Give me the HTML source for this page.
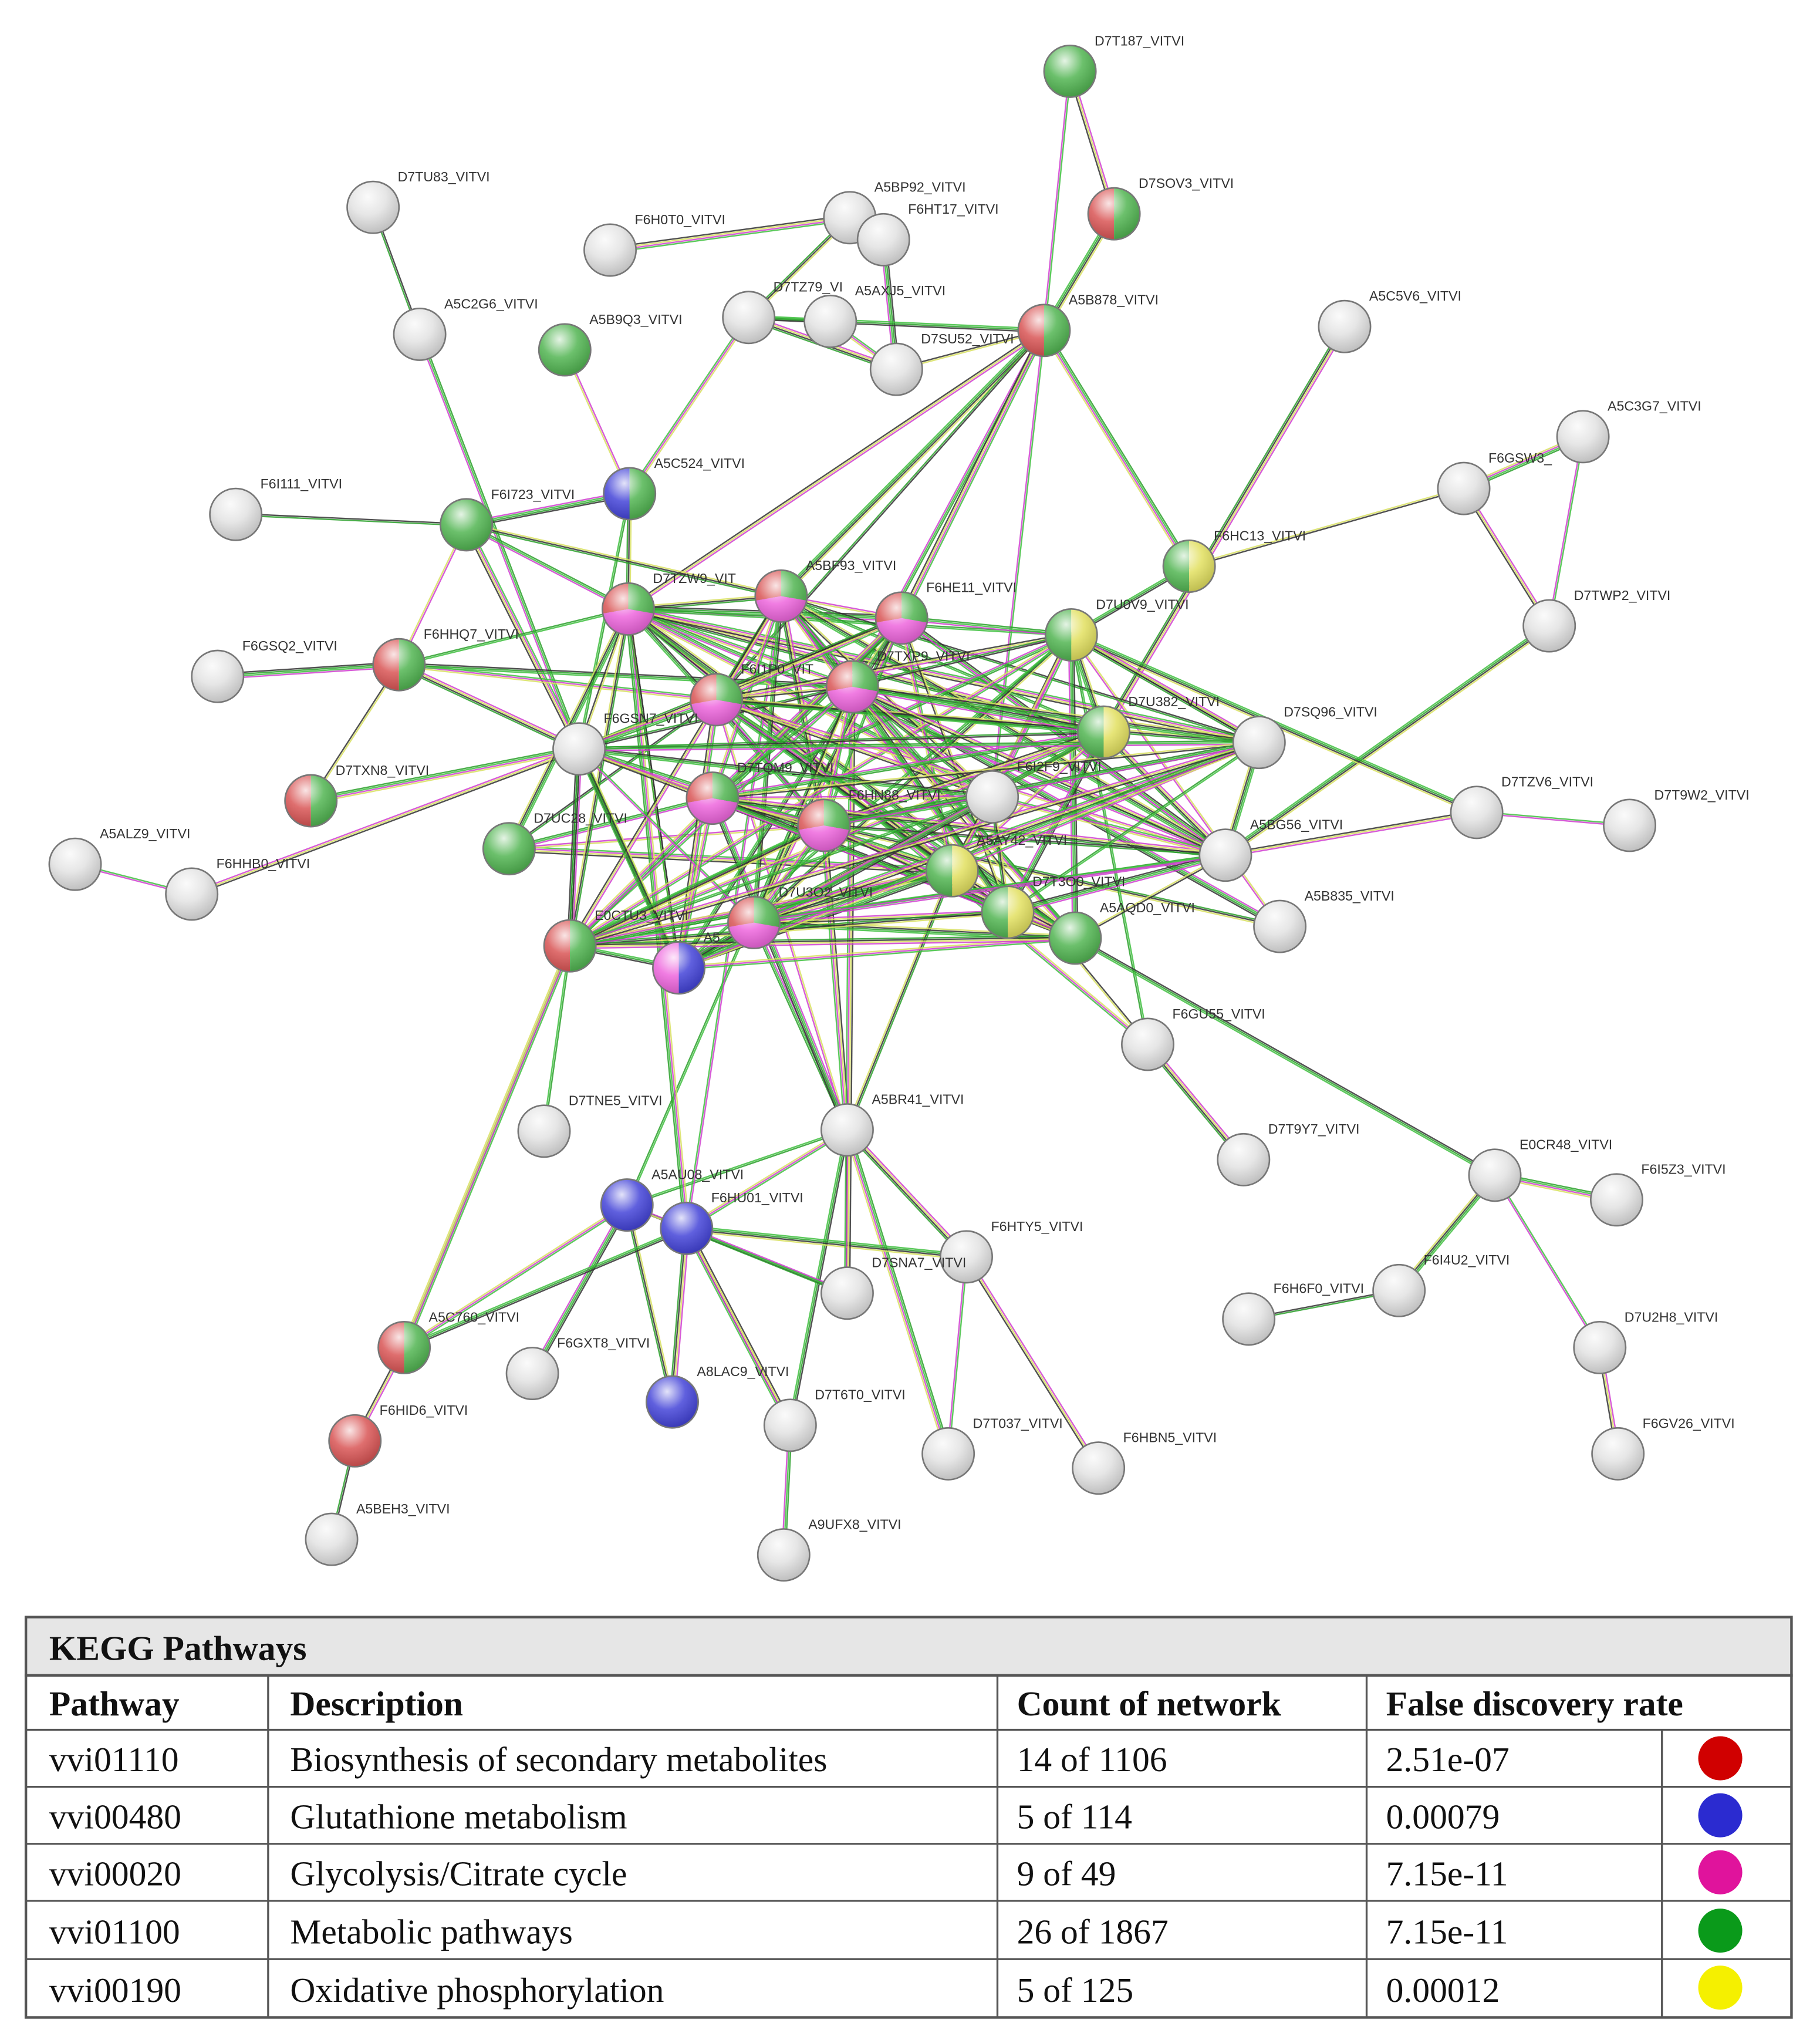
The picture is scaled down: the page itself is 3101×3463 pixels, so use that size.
<!DOCTYPE html>
<html><head><meta charset="utf-8">
<style>
html,body{margin:0;padding:0;background:#fff}
#wrap{position:relative;width:3101px;height:3463px;overflow:hidden}
svg{position:absolute;left:0;top:0}
</style></head>
<body><div id="wrap">
<svg id="net" width="3101" height="3463" viewBox="0 0 1405 1569" xmlns="http://www.w3.org/2000/svg">
<defs>
<radialGradient id="shine" cx="0.4" cy="0.3" r="0.7">
<stop offset="0" stop-color="#fff" stop-opacity="0.85"/>
<stop offset="0.5" stop-color="#fff" stop-opacity="0.15"/>
<stop offset="1" stop-color="#000" stop-opacity="0.15"/>
</radialGradient>
</defs>
<g id="edges"></g>
<g id="nodes"></g>
<g id="labels" font-family="Liberation Sans, sans-serif" font-size="10.5" fill="#333"></g>
<!-- table -->
<g font-family="Liberation Serif, serif" font-size="27" fill="#111">
<rect x="20" y="1248" width="1363" height="45" fill="#e6e6e6" stroke="#555" stroke-width="2"/>
<rect x="20" y="1293" width="1363" height="264" fill="#fff" stroke="#555" stroke-width="2"/>
<g stroke="#555" stroke-width="1.5">
<line x1="20" y1="1335" x2="1383" y2="1335"/>
<line x1="20" y1="1379" x2="1383" y2="1379"/>
<line x1="20" y1="1423" x2="1383" y2="1423"/>
<line x1="20" y1="1467" x2="1383" y2="1467"/>
<line x1="20" y1="1512" x2="1383" y2="1512"/>
<line x1="207" y1="1293" x2="207" y2="1557"/>
<line x1="770" y1="1293" x2="770" y2="1557"/>
<line x1="1055" y1="1293" x2="1055" y2="1557"/>
<line x1="1283" y1="1335" x2="1283" y2="1557"/>
</g>
<text x="38" y="1281" font-weight="bold">KEGG  Pathways</text>
<text x="38" y="1324" font-weight="bold">Pathway</text>
<text x="224" y="1324" font-weight="bold">Description</text>
<text x="785" y="1324" font-weight="bold">Count  of network</text>
<text x="1070" y="1324" font-weight="bold">False discovery  rate</text>
<text x="38" y="1367">vvi01110</text><text x="224" y="1367">Biosynthesis of secondary metabolites</text><text x="785" y="1367">14  of 1106</text><text x="1070" y="1367">2.51e-07</text>
<text x="38" y="1411">vvi00480</text><text x="224" y="1411">Glutathione metabolism</text><text x="785" y="1411">5 of 114</text><text x="1070" y="1411">0.00079</text>
<text x="38" y="1455">vvi00020</text><text x="224" y="1455">Glycolysis/Citrate  cycle</text><text x="785" y="1455">9 of 49</text><text x="1070" y="1455">7.15e-11</text>
<text x="38" y="1500">vvi01100</text><text x="224" y="1500">Metabolic pathways</text><text x="785" y="1500">26  of 1867</text><text x="1070" y="1500">7.15e-11</text>
<text x="38" y="1545">vvi00190</text><text x="224" y="1545">Oxidative  phosphorylation</text><text x="785" y="1545">5 of 125</text><text x="1070" y="1545">0.00012</text>
<circle cx="1328" cy="1357" r="17" fill="#d00000"/>
<circle cx="1328" cy="1401" r="17" fill="#2b2bd0"/>
<circle cx="1328" cy="1445" r="17" fill="#e0139c"/>
<circle cx="1328" cy="1490" r="17" fill="#0a9a1a"/>
<circle cx="1328" cy="1534" r="17" fill="#f5f000"/>
</g>
</svg>
</div>
<script>
var N={
D7T187:[826,55,'g'],D7SOV3:[860,165,'rg'],D7TU83:[288,160,'w'],A5BP92:[656,168,'w'],F6HT17:[682,185,'w'],
F6H0T0:[471,193,'w'],A5C2G6:[324,258,'w'],A5B9Q3:[436,270,'g'],D7TZ79:[578,245,'w'],A5AXJ5:[641,248,'w'],
A5B878:[806,255,'rg'],D7SU52:[692,285,'w'],A5C5V6:[1038,252,'w'],A5C3G7:[1222,337,'w'],F6GSW3:[1130,377,'w'],
F6I111:[182,397,'w'],A5C524:[486,381,'bg'],F6I723:[360,405,'g'],F6HC13:[918,437,'gy'],D7TWP2:[1196,483,'w'],
D7TZW9:[485,470,'rgm'],A5BF93:[603,460,'rgm'],F6HE11:[696,477,'rgm'],D7U0V9:[827,490,'gy'],F6GSQ2:[168,522,'w'],
F6HHQ7:[308,513,'rg'],F6I1P0:[553,540,'rgm'],D7TXP9:[658,530,'rgm'],D7U382:[852,565,'gy'],D7SQ96:[972,573,'w'],
F6GSN7:[447,578,'w'],D7TXN8:[240,618,'rg'],D7TQM9:[550,616,'rgm'],F6HN88:[636,637,'rgm'],F6I2F9:[766,615,'w'],
D7TZV6:[1140,627,'w'],D7T9W2:[1258,637,'w'],A5ALZ9:[58,667,'w'],F6HHB0:[148,690,'w'],D7UC28:[393,655,'g'],
A5AY42:[735,672,'gy'],A5BG56:[946,660,'w'],D7U3O2:[582,712,'rgm'],D7T3O0:[778,704,'gy'],A5AQD0:[830,724,'g'],
A5B835:[988,715,'w'],E0CTU3:[440,730,'rg'],A5X:[524,747,'mb'],F6GU55:[886,806,'w'],D7TNE5:[420,873,'w'],
A5BR41:[654,872,'w'],D7T9Y7:[960,895,'w'],E0CR48:[1154,907,'w'],F6I5Z3:[1248,926,'w'],A5AU08:[484,930,'b'],
F6HU01:[530,948,'b'],F6HTY5:[746,970,'w'],D7SNA7:[654,998,'w'],F6I4U2:[1080,996,'w'],F6H6F0:[964,1018,'w'],
D7U2H8:[1235,1040,'w'],A5C760:[312,1040,'rg'],F6GXT8:[411,1060,'w'],A8LAC9:[519,1082,'b'],F6HID6:[274,1112,'r'],
D7T6T0:[610,1100,'w'],D7T037:[732,1122,'w'],F6HBN5:[848,1133,'w'],F6GV26:[1249,1122,'w'],A5BEH3:[256,1188,'w'],
A9UFX8:[605,1200,'w']};
var L={D7TZW9:'D7TZW9_VIT',A5X:'A5',F6I1P0:'F6I1P0_VIT',D7U0V9:'D7U0V9_VITVI',D7TZ79:'D7TZ79_VI',F6GSW3:'F6GSW3_',D7TXP9:'D7TXP9_VITVI',D7U3O2:'D7U3O2_VITVI'};
var E=[
'D7T187 A5B878','D7T187 D7SOV3','D7SOV3 A5B878','D7TU83 A5C2G6','A5C2G6 F6GSN7','A5BP92 F6H0T0','A5BP92 F6HT17','A5BP92 D7TZ79',
'F6HT17 D7SU52','A5AXJ5 D7TZ79','A5AXJ5 D7SU52','D7TZ79 D7SU52','A5B878 D7SU52','A5B878 D7TZ79','A5B878 F6HC13','A5B878 F6I2F9',
'A5B878 D7TZW9','A5B878 A5BF93','A5B878 F6I1P0','A5B878 D7TXP9','A5B878 F6HE11','A5B9Q3 A5C524','A5C524 D7TZW9','A5C524 F6I723',
'A5C524 F6GSN7','A5C524 D7TZ79','A5C5V6 D7U382','F6HC13 F6GSW3','F6HC13 D7U0V9','A5C3G7 F6GSW3','A5C3G7 D7TWP2','F6GSW3 D7TWP2',
'D7TWP2 A5BG56','F6I111 F6I723','F6I723 D7TZW9','F6I723 F6GSN7','F6I723 F6HHQ7','F6I723 A5BF93','F6GSQ2 F6HHQ7','F6HHQ7 D7TZW9',
'F6HHQ7 F6I1P0','F6HHQ7 F6GSN7','F6HHQ7 D7TXN8','F6HHQ7 D7TXP9','D7TXN8 F6GSN7','A5ALZ9 F6HHB0','F6HHB0 F6GSN7','D7UC28 D7TZW9',
'D7UC28 F6I1P0','D7UC28 D7TQM9','D7UC28 A5AY42','D7UC28 F6HN88','E0CTU3 D7TZW9','E0CTU3 F6GSN7','E0CTU3 D7TNE5','E0CTU3 F6HN88',
'E0CTU3 A5AY42','A5X D7TZW9','A5X F6GSN7','A5X D7U3O2','D7TZV6 D7T9W2','D7TZV6 A5BG56','D7TZV6 D7U0V9','D7SQ96 D7U0V9','D7SQ96 F6HN88',
'A5BG56 F6HE11','A5B835 D7U0V9','A5B835 F6HN88','A5B835 D7TXP9','F6GU55 D7U0V9','F6GU55 D7TZW9','F6GU55 D7T9Y7','F6GU55 D7TXP9',
'A5AQD0 E0CR48','E0CR48 F6I5Z3','E0CR48 D7U2H8','D7U2H8 F6GV26','F6I4U2 E0CR48','F6H6F0 F6I4U2','A5BR41 D7U3O2','A5BR41 F6HN88',
'A5BR41 F6I1P0','A5BR41 A5AY42','A5BR41 D7TQM9','A5BR41 A5AU08','A5BR41 F6HU01','A5BR41 F6HTY5','A5BR41 D7SNA7','A5BR41 D7T6T0',
'A5BR41 D7T037','F6HTY5 D7T037','F6HTY5 F6HBN5','F6HTY5 F6HU01','D7SNA7 A5AU08','D7SNA7 F6HU01','D7SNA7 D7TXP9','A5AU08 F6HU01',
'A5AU08 A8LAC9','A5AU08 F6GXT8','A5AU08 D7TXP9','A5AU08 A5C760','F6HU01 A8LAC9','F6HU01 D7T6T0','F6HU01 A5C760','F6HU01 D7TZW9',
'F6HU01 A5BF93','A5C760 F6HID6','A5C760 E0CTU3','F6HID6 A5BEH3','D7T6T0 A9UFX8','D7T6T0 F6HU01','E0CTU3 A5C760'];
var core=['D7TZW9','A5BF93','F6HE11','D7U0V9','F6I1P0','D7TXP9','D7U382','F6GSN7','D7TQM9','F6HN88','F6I2F9','A5AY42','D7U3O2','D7T3O0','A5AQD0','A5X','E0CTU3','A5BG56','D7SQ96'];
for(var i=0;i<core.length;i++)for(var j=i+1;j<core.length;j++){if((i*7+j*3)%4!=0)E.push(core[i]+' '+core[j]);}
var ns='http://www.w3.org/2000/svg';
function el(t,a,p){var e=document.createElementNS(ns,t);for(var k in a)e.setAttribute(k,a[k]);p.appendChild(e);return e;}
var eg=document.getElementById('edges');
var cols=['#3fbf3f','#d040d0','#d8e060','#333','#2aa02a'];
E.forEach(function(s,idx){var p=s.split(' ');var a=N[p[0]],b=N[p[1]];if(!a||!b)return;
var dx=b[0]-a[0],dy=b[1]-a[1],l=Math.sqrt(dx*dx+dy*dy)||1,nx=-dy/l,ny=dx/l;
var k=(idx%3)+2;
for(var m=0;m<k;m++){var o=(m-(k-1)/2)*1.3;
el('line',{x1:a[0]+nx*o,y1:a[1]+ny*o,x2:b[0]+nx*o,y2:b[1]+ny*o,stroke:cols[(idx+m)%cols.length],'stroke-width':1.1,'stroke-opacity':0.85},eg);}
});
var ng=document.getElementById('nodes');var R=20;
var C={r:'#d95555',g:'#52b552',m:'#ee66dd',b:'#4444d8',y:'#e2e060',w:'#e2e2e2'};
function arc(cx,cy,a1,a2,c){a1*=Math.PI/180;a2*=Math.PI/180;var x1=cx+R*Math.cos(a1),y1=cy+R*Math.sin(a1),x2=cx+R*Math.cos(a2),y2=cy+R*Math.sin(a2);
el('path',{d:'M'+cx+' '+cy+' L'+x1+' '+y1+' A'+R+' '+R+' 0 '+((a2-a1)>Math.PI?1:0)+' 1 '+x2+' '+y2+' Z',fill:c},ng);}
var lg=document.getElementById('labels');
for(var k in N){var n=N[k],x=n[0],y=n[1],t=n[2];
if(t.length==1)el('circle',{cx:x,cy:y,r:R,fill:C[t]},ng);
else if(t.length==2){arc(x,y,90,270,C[t[0]]);arc(x,y,270,450,C[t[1]]);}
else{arc(x,y,10,170,C.m);arc(x,y,170,270,C.r);arc(x,y,270,370,C.g);}
el('circle',{cx:x,cy:y,r:R,fill:'url(#shine)',stroke:'#777','stroke-width':1.2},ng);
var tx=el('text',{x:x+19,y:y-20},lg);tx.textContent=L[k]||(k+'_VITVI');}
</script>
</body></html>
